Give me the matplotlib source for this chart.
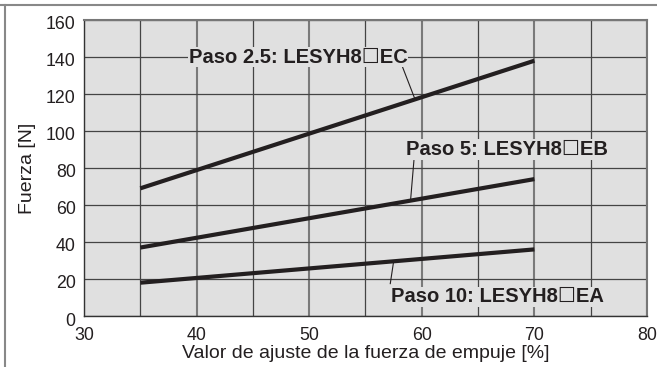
import matplotlib
matplotlib.use('Agg')
import matplotlib.pyplot as plt
import matplotlib.transforms as mtransforms
from matplotlib.lines import Line2D

plt.rcParams['font.family'] = ['Liberation Sans', 'DejaVu Sans']

# data
x_vals = [35, 70]
ec_vals = [69, 138]
eb_vals = [37, 74]
ea_vals = [18, 36]

labels = ['Paso 2.5: LESYH8\u2610EC', 'Paso 5: LESYH8\u2610EB', 'Paso 10: LESYH8\u2610EA']
label_pos = [(49.0, 140), (67.6, 90), (66.7, 10.3)]
leader_start = [(58.2, 136.0), (59.3, 84.0), (57.2, 17.5)]
leader_end = [(59.4, 117.1), (59.0, 62.4), (57.5, 29.6)]

xticks = [30, 40, 50, 60, 70, 80]
yticks = [0, 20, 40, 60, 80, 100, 120, 140, 160]

bg = '#e0e0e0'
ink = '#231f20'

fig = plt.figure(figsize=(6.57, 3.67), dpi=100)
ax = fig.add_axes([84 / 657, 51 / 367, 563 / 657, 296 / 367])
ax.set_facecolor(bg)

ax.set_xlim(30, 80)
ax.set_ylim(0, 160)
ax.set_xticks(xticks)
ax.set_yticks(yticks)
ax.set_xticks(range(35, 80, 10), minor=True)
ax.tick_params(which='both', length=0, labelsize=12.8, colors=ink)
ax.tick_params(axis='x', pad=8)
ax.tick_params(axis='y', pad=6)
ax.grid(True, which='major', axis='x', color='#7a7a7a', linewidth=1.5)
ax.grid(True, which='minor', axis='x', color='#444444', linewidth=0.9)
ax.grid(True, which='major', axis='y', color='#444444', linewidth=0.9)
ax.set_axisbelow(True)

# y tick labels sit a little below their gridlines
shift = mtransforms.ScaledTranslation(0, -3 / 100, fig.dpi_scale_trans)
for t in ax.get_yticklabels():
    t.set_transform(t.get_transform() + shift)

for s in ['left', 'bottom']:
    ax.spines[s].set_color('#333333')
    ax.spines[s].set_linewidth(1.0)
for s in ['top', 'right']:
    ax.spines[s].set_color('#777777')
    ax.spines[s].set_linewidth(1.5)

for ys in [ec_vals, eb_vals, ea_vals]:
    ax.plot(x_vals, ys, color=ink, linewidth=3, solid_capstyle='butt', zorder=3)

for lab, (tx, ty), (x0, y0), (x1, y1) in zip(labels, label_pos, leader_start, leader_end):
    ax.plot([x0, x1], [y0, y1], color=ink, linewidth=0.8, zorder=2)
    ax.text(tx, ty, lab, ha='center', va='center', fontsize=14.5, fontweight='bold',
            color=ink, zorder=4,
            bbox=dict(facecolor=bg, edgecolor='none', pad=0.5))

ax.set_xlabel('Valor de ajuste de la fuerza de empuje [%]', fontsize=14, color=ink, labelpad=1)
ax.set_ylabel('Fuerza [N]', fontsize=14, color=ink, labelpad=7)

# outer frame (top and left only)
fig.add_artist(Line2D([0, 1], [1 - 4.5 / 367] * 2, transform=fig.transFigure, color='#888888', linewidth=1.5))
fig.add_artist(Line2D([4.5 / 657] * 2, [0, 1 - 4.5 / 367], transform=fig.transFigure, color='#888888', linewidth=1.5))

fig.savefig('out.png', dpi=100)
